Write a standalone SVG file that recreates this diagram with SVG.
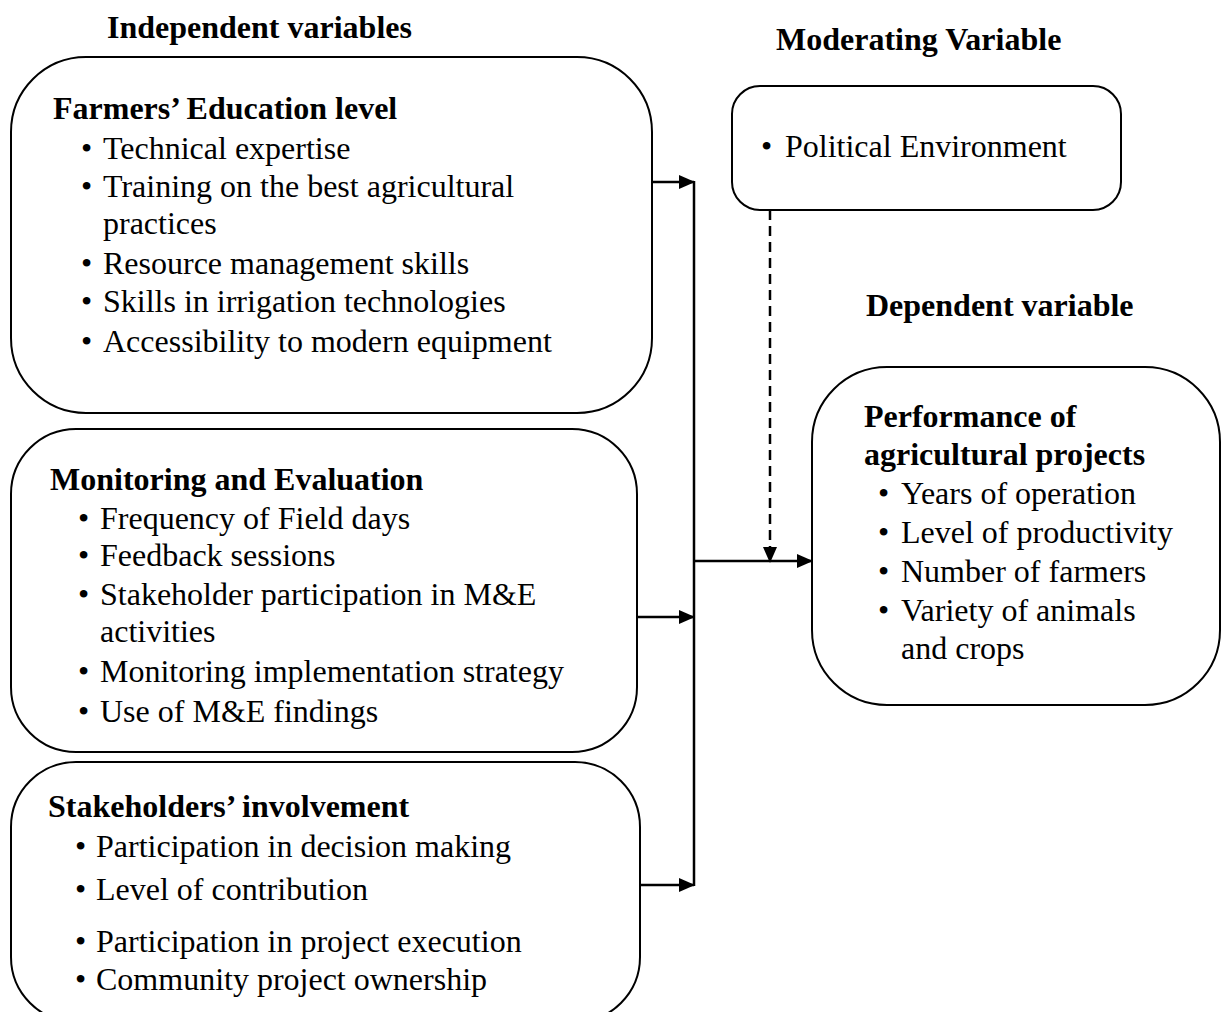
<svg xmlns="http://www.w3.org/2000/svg" width="1221" height="1012" viewBox="0 0 1221 1012">
<style>
text{font-family:"Liberation Serif","Times New Roman",serif;font-size:32px;fill:#000}
.b{font-weight:bold}
.box{fill:#fff;stroke:#000;stroke-width:2}
.ln{stroke:#000;stroke-width:2.5;fill:none}
</style>
<defs>
<marker id="ah" markerWidth="16" markerHeight="14" refX="15" refY="7" orient="auto" markerUnits="userSpaceOnUse">
<path d="M0,0 L16,7 L0,14 Z" fill="#000"/>
</marker>
</defs>
<rect width="1221" height="1012" fill="#fff"/>
<text class="b" x="107" y="38">Independent variables</text>
<text class="b" x="776" y="50">Moderating Variable</text>
<text class="b" x="866" y="316">Dependent variable</text>

<g id="node-education">
<rect class="box" x="11" y="57" width="641" height="356" rx="75" ry="75"/>
<text class="b" x="53" y="119">Farmers’ Education level</text>
<text y="159"><tspan x="81">•</tspan><tspan x="103">Technical expertise</tspan></text>
<text y="197"><tspan x="81">•</tspan><tspan x="103">Training on the best agricultural</tspan></text>
<text x="103" y="234">practices</text>
<text y="274"><tspan x="81">•</tspan><tspan x="103">Resource management skills</tspan></text>
<text y="312"><tspan x="81">•</tspan><tspan x="103">Skills in irrigation technologies</tspan></text>
<text y="352"><tspan x="81">•</tspan><tspan x="103">Accessibility to modern equipment</tspan></text>
</g>

<g id="node-me">
<rect class="box" x="11" y="429" width="626" height="323" rx="65" ry="65"/>
<text class="b" x="50" y="490">Monitoring and Evaluation</text>
<text y="529"><tspan x="78">•</tspan><tspan x="100">Frequency of Field days</tspan></text>
<text y="566"><tspan x="78">•</tspan><tspan x="100">Feedback sessions</tspan></text>
<text y="605"><tspan x="78">•</tspan><tspan x="100">Stakeholder participation in M&amp;E</tspan></text>
<text x="100" y="642">activities</text>
<text y="682"><tspan x="78">•</tspan><tspan x="100">Monitoring implementation strategy</tspan></text>
<text y="722"><tspan x="78">•</tspan><tspan x="100">Use of M&amp;E findings</tspan></text>
</g>

<g id="node-stakeholders">
<rect class="box" x="11" y="762" width="629" height="260" rx="65" ry="65"/>
<text class="b" x="48" y="817">Stakeholders’ involvement</text>
<text y="857"><tspan x="75">•</tspan><tspan x="96">Participation in decision making</tspan></text>
<text y="900"><tspan x="75">•</tspan><tspan x="96">Level of contribution</tspan></text>
<text y="952"><tspan x="75">•</tspan><tspan x="96">Participation in project execution</tspan></text>
<text y="990"><tspan x="75">•</tspan><tspan x="96">Community project ownership</tspan></text>
</g>

<g id="node-moderating">
<rect class="box" x="732" y="86" width="389" height="124" rx="28" ry="28"/>
<text y="157"><tspan x="761">•</tspan><tspan x="785">Political Environment</tspan></text>
</g>

<g id="node-dependent">
<rect class="box" x="812" y="367" width="408" height="338" rx="75" ry="75"/>
<text class="b" x="864" y="427">Performance of</text>
<text class="b" x="864" y="465">agricultural projects</text>
<text y="504"><tspan x="878">•</tspan><tspan x="901">Years of operation</tspan></text>
<text y="543"><tspan x="878">•</tspan><tspan x="901">Level of productivity</tspan></text>
<text y="582"><tspan x="878">•</tspan><tspan x="901">Number of farmers</tspan></text>
<text y="621"><tspan x="878">•</tspan><tspan x="901">Variety of animals</tspan></text>
<text x="901" y="659">and crops</text>
</g>

<g id="connectors">
<line class="ln" x1="694" y1="181" x2="694" y2="886"/>
<line class="ln" x1="652" y1="182" x2="694" y2="182" marker-end="url(#ah)"/>
<line class="ln" x1="637" y1="617" x2="694" y2="617" marker-end="url(#ah)"/>
<line class="ln" x1="640" y1="885" x2="694" y2="885" marker-end="url(#ah)"/>
<line class="ln" x1="694" y1="561" x2="812" y2="561" marker-end="url(#ah)"/>
<line class="ln" x1="770" y1="210" x2="770" y2="562" stroke-dasharray="10,6" marker-end="url(#ah)"/>
</g>
</svg>
